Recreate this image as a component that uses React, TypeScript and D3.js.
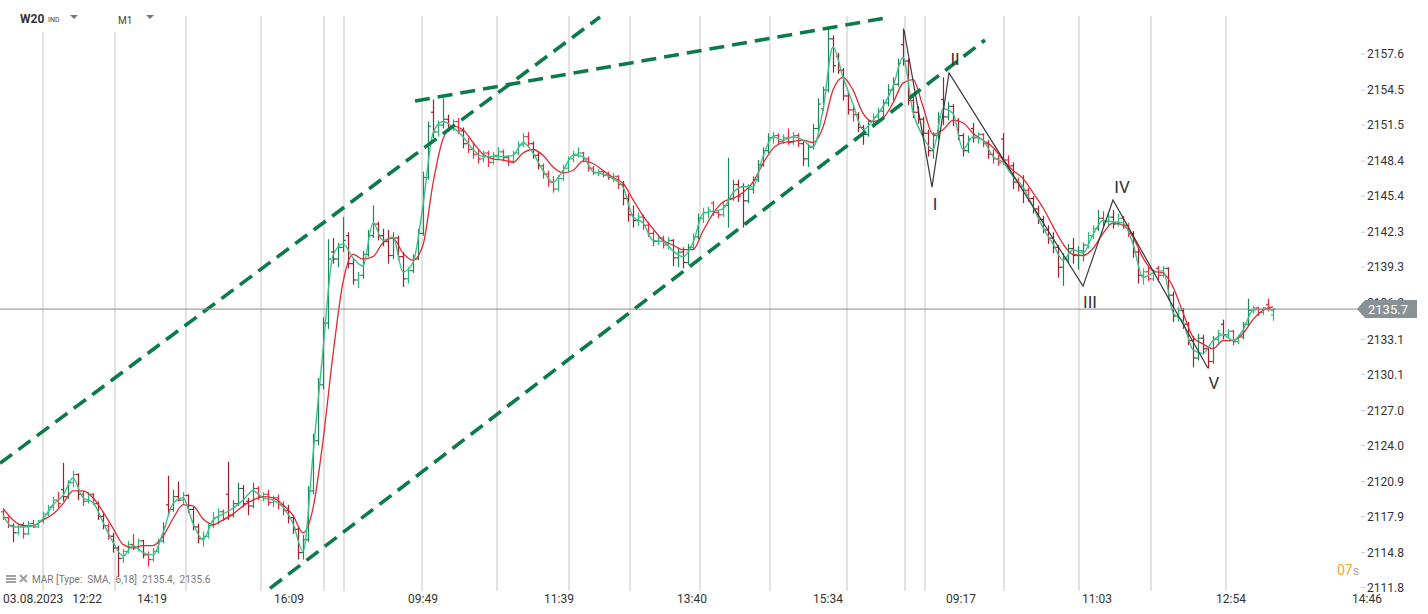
import * as d3 from "d3";

// right axis tick labels (price)
const priceTicks = [
  "2157.6", "2154.5", "2151.5", "2148.4", "2145.4", "2142.3", "2139.3", "2136.2",
  "2133.1", "2130.1", "2127.0", "2124.0", "2120.9", "2117.9", "2114.8", "2111.8",
];

// time axis labels and where they sit (bar slot units)
const timeLabels = ["14:19", "16:09", "09:49", "11:39", "13:40", "15:34", "09:17", "11:03", "12:54", "14:46"];
const timeSlots = [29.8, 57.2, 84, 111.2, 137.8, 165, 191.6, 218.8, 245.6, 272.8];
const firstLabel = "03.08.2023\u00a0\u00a0\u00a012:22";

// vertical grid lines (bar slot units)
const gridSlots = [8, 22.4, 36.6, 51.6, 64.2, 68.2, 83.8, 98.8, 113.2, 125.4, 139.4, 153.4, 168.8, 180.4, 184.4, 200.2, 215.2, 229.6, 244.6];

// OHLC bars: [open, high, low, close]
const bars: [number, number, number, number][] = [
  [2118.3, 2118.5, 2117.6, 2117.8], [2117.8, 2117.9, 2116.9, 2117.1], [2117.1, 2117.3, 2115.7, 2116.5], [2116.5, 2117.3, 2116.3, 2117.2], [2117.2, 2117.4, 2116.0, 2116.4],
  [2116.4, 2117.5, 2116.3, 2117.3], [2117.3, 2117.6, 2116.9, 2117.0], [2117.0, 2117.6, 2116.9, 2117.5], [2117.5, 2118.3, 2117.3, 2118.1], [2118.1, 2118.9, 2117.9, 2118.7],
  [2118.7, 2119.6, 2118.4, 2119.3], [2119.3, 2120.0, 2118.6, 2119.0], [2120.2, 2122.5, 2119.2, 2119.6], [2119.6, 2121.0, 2119.4, 2120.8], [2120.8, 2121.8, 2120.4, 2121.5],
  [2121.5, 2121.6, 2119.3, 2119.8], [2119.8, 2120.1, 2118.8, 2119.2], [2119.2, 2120.0, 2119.0, 2119.8], [2119.8, 2119.9, 2118.9, 2119.0], [2119.0, 2119.2, 2117.6, 2117.9],
  [2117.9, 2118.3, 2116.8, 2117.1], [2117.1, 2117.3, 2115.9, 2116.2], [2116.2, 2116.5, 2114.8, 2115.2], [2115.2, 2115.4, 2112.7, 2114.3], [2114.3, 2115.1, 2113.9, 2114.9],
  [2114.9, 2115.8, 2114.7, 2115.5], [2115.5, 2116.4, 2115.0, 2115.2], [2115.2, 2116.0, 2114.9, 2115.8], [2115.8, 2115.9, 2114.3, 2114.6], [2114.6, 2114.9, 2113.6, 2114.2],
  [2114.2, 2115.2, 2114.0, 2114.9], [2114.9, 2116.0, 2114.7, 2115.8], [2115.8, 2117.4, 2115.6, 2117.0], [2118.9, 2121.4, 2118.0, 2118.5], [2118.5, 2120.2, 2118.3, 2119.6],
  [2119.6, 2120.9, 2119.2, 2119.3], [2119.3, 2120.0, 2118.9, 2119.7], [2119.7, 2119.8, 2118.2, 2118.5], [2118.5, 2118.7, 2116.7, 2117.0], [2117.0, 2117.3, 2115.6, 2116.0],
  [2116.0, 2116.6, 2115.3, 2116.2], [2116.2, 2117.4, 2116.0, 2117.1], [2117.1, 2118.3, 2116.9, 2117.8], [2117.8, 2118.6, 2117.2, 2118.3], [2118.3, 2118.5, 2117.5, 2117.7],
  [2119.8, 2122.6, 2117.6, 2118.0], [2118.0, 2119.3, 2117.8, 2119.0], [2119.0, 2120.8, 2118.8, 2120.3], [2120.3, 2120.6, 2118.7, 2119.0], [2119.2, 2119.5, 2118.0, 2118.8],
  [2118.8, 2120.8, 2118.6, 2120.3], [2120.3, 2120.5, 2119.3, 2119.6], [2119.6, 2120.0, 2119.2, 2119.8], [2119.8, 2120.2, 2118.8, 2119.1], [2119.1, 2119.7, 2118.7, 2119.5],
  [2119.5, 2119.8, 2118.5, 2118.9], [2118.9, 2119.2, 2118.0, 2118.4], [2118.4, 2118.9, 2117.3, 2117.8], [2117.8, 2118.0, 2116.4, 2116.8], [2116.8, 2117.0, 2114.2, 2114.8],
  [2114.8, 2116.3, 2114.2, 2115.9], [2115.9, 2120.5, 2115.7, 2120.1], [2120.1, 2125.0, 2119.8, 2124.4], [2124.4, 2129.8, 2124.0, 2129.2], [2129.2, 2135.0, 2128.8, 2134.5],
  [2134.5, 2141.7, 2134.0, 2140.0], [2140.6, 2141.8, 2139.6, 2140.0], [2140.0, 2141.4, 2139.3, 2141.0], [2141.0, 2143.6, 2140.6, 2141.6], [2142.0, 2142.3, 2139.2, 2139.6],
  [2139.6, 2140.1, 2137.8, 2138.2], [2138.2, 2138.9, 2137.5, 2138.6], [2138.6, 2140.7, 2138.3, 2140.4], [2140.4, 2142.5, 2140.2, 2142.0], [2142.0, 2144.6, 2141.8, 2143.0],
  [2143.0, 2143.2, 2141.6, 2142.0], [2142.0, 2142.6, 2141.1, 2141.5], [2141.5, 2142.5, 2139.6, 2140.3], [2140.3, 2142.3, 2140.0, 2141.8], [2141.8, 2142.0, 2139.9, 2140.2],
  [2140.2, 2140.6, 2137.6, 2138.3], [2138.3, 2139.3, 2137.9, 2139.0], [2139.0, 2140.4, 2138.8, 2140.0], [2140.0, 2142.6, 2139.9, 2142.2], [2142.2, 2147.5, 2142.0, 2147.0],
  [2147.0, 2151.8, 2146.8, 2151.4], [2152.6, 2153.7, 2150.4, 2150.9], [2150.9, 2151.9, 2150.5, 2151.5], [2151.5, 2153.8, 2151.2, 2152.0], [2152.0, 2152.4, 2150.9, 2151.3],
  [2151.3, 2152.0, 2151.0, 2151.8], [2151.8, 2152.1, 2150.7, 2151.0], [2151.0, 2151.3, 2149.5, 2149.9], [2149.9, 2150.4, 2149.1, 2149.4], [2149.4, 2150.0, 2148.6, 2149.0],
  [2149.0, 2149.4, 2148.2, 2148.6], [2148.6, 2149.3, 2148.3, 2149.1], [2149.1, 2149.3, 2147.9, 2148.3], [2148.3, 2149.2, 2148.1, 2148.9], [2148.9, 2149.6, 2148.6, 2149.2],
  [2149.2, 2149.4, 2148.4, 2148.7], [2148.7, 2148.9, 2148.0, 2148.4], [2148.4, 2149.3, 2148.2, 2149.1], [2149.1, 2150.1, 2148.9, 2149.8], [2149.8, 2150.8, 2149.6, 2150.5],
  [2150.5, 2150.9, 2149.6, 2149.9], [2149.9, 2150.1, 2148.6, 2148.9], [2148.9, 2149.2, 2147.7, 2148.0], [2148.0, 2148.2, 2146.9, 2147.3], [2147.3, 2147.6, 2146.2, 2146.6],
  [2146.6, 2147.1, 2145.7, 2146.0], [2146.0, 2147.2, 2145.8, 2146.9], [2146.9, 2148.1, 2146.7, 2147.8], [2147.8, 2148.8, 2147.5, 2148.6], [2148.6, 2149.3, 2148.3, 2149.0],
  [2149.0, 2149.6, 2148.7, 2149.1], [2149.1, 2149.2, 2148.3, 2148.6], [2148.6, 2148.8, 2147.5, 2147.8], [2147.8, 2148.0, 2147.2, 2147.4], [2147.4, 2147.7, 2147.1, 2147.5],
  [2147.5, 2147.6, 2147.0, 2147.2], [2147.2, 2147.5, 2146.8, 2147.0], [2147.0, 2147.4, 2146.6, 2147.1], [2147.1, 2147.2, 2146.0, 2146.4], [2146.4, 2146.7, 2144.6, 2145.2],
  [2145.2, 2145.6, 2143.2, 2143.8], [2143.8, 2144.6, 2142.7, 2143.3], [2143.3, 2144.0, 2142.8, 2143.6], [2143.6, 2143.8, 2142.5, 2142.9], [2142.9, 2143.2, 2141.9, 2142.2],
  [2142.2, 2142.4, 2141.1, 2141.5], [2141.5, 2142.1, 2141.2, 2141.8], [2141.8, 2142.0, 2140.9, 2141.2], [2141.2, 2141.9, 2140.8, 2141.6], [2141.6, 2141.7, 2139.4, 2140.1],
  [2140.1, 2141.0, 2139.3, 2140.6], [2140.6, 2141.0, 2139.2, 2139.7], [2139.7, 2141.3, 2139.5, 2141.0], [2141.0, 2142.2, 2140.8, 2141.9], [2141.9, 2143.9, 2141.7, 2143.5],
  [2143.5, 2144.4, 2143.1, 2144.0], [2144.0, 2144.5, 2143.5, 2144.2], [2144.8, 2145.0, 2143.7, 2144.0], [2144.0, 2144.2, 2143.5, 2143.8], [2143.8, 2144.9, 2143.6, 2144.6],
  [2144.6, 2148.7, 2142.7, 2145.2], [2145.2, 2146.8, 2145.0, 2146.4], [2146.4, 2146.8, 2144.9, 2145.4], [2146.2, 2146.5, 2142.7, 2145.0], [2145.0, 2146.4, 2144.8, 2146.0],
  [2146.0, 2147.1, 2145.6, 2146.8], [2146.8, 2148.5, 2146.6, 2148.1], [2148.1, 2149.6, 2147.9, 2149.3], [2149.3, 2150.8, 2149.1, 2150.4], [2150.4, 2150.9, 2149.9, 2150.6],
  [2150.6, 2150.8, 2149.8, 2150.1], [2150.1, 2150.7, 2149.9, 2150.4], [2150.4, 2151.2, 2149.8, 2150.0], [2150.0, 2150.9, 2149.8, 2150.6], [2150.6, 2150.8, 2149.6, 2149.9],
  [2149.9, 2150.1, 2148.0, 2148.6], [2148.6, 2149.9, 2147.9, 2149.6], [2149.6, 2151.6, 2149.4, 2151.2], [2151.2, 2153.8, 2151.0, 2153.3], [2152.9, 2154.8, 2152.7, 2154.5],
  [2154.5, 2159.8, 2154.3, 2158.9], [2158.9, 2159.2, 2156.0, 2156.6], [2157.4, 2157.7, 2155.9, 2156.2], [2156.2, 2156.4, 2153.6, 2154.0], [2154.0, 2154.3, 2152.4, 2152.8],
  [2152.8, 2153.2, 2151.8, 2152.4], [2152.4, 2152.6, 2150.9, 2151.3], [2151.3, 2151.5, 2149.8, 2150.7], [2150.7, 2152.0, 2150.5, 2151.8], [2151.8, 2152.5, 2151.5, 2152.2],
  [2152.2, 2153.0, 2151.9, 2152.7], [2152.7, 2153.7, 2152.2, 2153.4], [2153.4, 2155.0, 2153.1, 2154.5], [2154.5, 2155.6, 2153.6, 2155.0], [2155.0, 2157.2, 2154.8, 2156.8],
  [2158.4, 2159.8, 2156.6, 2157.0], [2157.0, 2157.2, 2153.2, 2153.6], [2153.6, 2154.0, 2152.1, 2152.6], [2152.6, 2153.1, 2151.6, 2152.0], [2152.0, 2152.2, 2150.5, 2150.8],
  [2150.8, 2151.1, 2148.8, 2149.3], [2149.3, 2150.9, 2148.6, 2150.6], [2150.6, 2152.6, 2150.3, 2152.2], [2153.7, 2155.6, 2151.5, 2152.2], [2152.2, 2153.5, 2151.9, 2153.1],
  [2153.1, 2153.3, 2151.4, 2151.9], [2151.9, 2152.1, 2150.2, 2150.6], [2150.6, 2150.8, 2148.8, 2149.3], [2149.3, 2150.6, 2149.1, 2150.3], [2151.2, 2151.7, 2150.0, 2150.4],
  [2150.4, 2150.9, 2149.9, 2150.7], [2150.7, 2150.8, 2149.6, 2149.9], [2149.9, 2150.2, 2148.6, 2149.0], [2149.0, 2149.4, 2148.2, 2148.6], [2148.6, 2148.9, 2148.0, 2148.3],
  [2150.3, 2150.8, 2148.1, 2148.5], [2148.5, 2148.9, 2147.6, 2148.0], [2148.0, 2148.3, 2146.0, 2146.6], [2146.6, 2147.0, 2145.8, 2146.2], [2146.2, 2147.2, 2144.8, 2145.9],
  [2145.9, 2146.1, 2144.9, 2145.2], [2145.2, 2145.4, 2143.9, 2144.3], [2144.3, 2144.6, 2143.0, 2143.4], [2143.4, 2143.7, 2142.2, 2142.5], [2142.5, 2142.9, 2141.3, 2141.8],
  [2141.8, 2142.3, 2140.5, 2141.0], [2141.0, 2141.2, 2138.4, 2139.3], [2139.3, 2140.5, 2137.7, 2140.0], [2140.0, 2141.3, 2139.6, 2140.9], [2140.9, 2141.8, 2139.6, 2140.3],
  [2140.3, 2141.1, 2139.1, 2140.7], [2140.7, 2141.4, 2139.8, 2141.2], [2141.2, 2142.3, 2140.9, 2142.0], [2142.0, 2142.9, 2141.7, 2142.6], [2142.6, 2144.2, 2142.4, 2143.5],
  [2143.5, 2144.1, 2142.8, 2143.2], [2143.2, 2143.9, 2142.9, 2143.6], [2143.6, 2144.2, 2142.6, 2143.0], [2143.0, 2143.9, 2142.8, 2143.5], [2143.5, 2143.7, 2142.6, 2142.9],
  [2142.9, 2143.1, 2141.9, 2142.2], [2142.2, 2142.4, 2140.1, 2140.6], [2140.6, 2140.9, 2137.9, 2138.6], [2138.6, 2139.2, 2137.8, 2138.9], [2138.9, 2139.3, 2138.1, 2138.3],
  [2138.3, 2139.1, 2138.1, 2138.9], [2139.2, 2139.4, 2138.0, 2138.6], [2138.6, 2139.4, 2138.4, 2139.2], [2139.2, 2139.3, 2136.5, 2136.9], [2136.9, 2137.2, 2134.6, 2135.1],
  [2135.1, 2135.9, 2134.6, 2135.6], [2135.6, 2135.8, 2134.0, 2134.4], [2134.4, 2134.6, 2132.6, 2133.0], [2133.0, 2133.4, 2130.7, 2131.5], [2131.5, 2133.6, 2131.3, 2133.2],
  [2133.2, 2133.5, 2131.8, 2132.3], [2132.3, 2132.5, 2130.6, 2131.2], [2131.2, 2133.4, 2131.0, 2133.1], [2133.1, 2133.9, 2132.8, 2133.6], [2134.4, 2134.8, 2133.1, 2133.5],
  [2133.5, 2134.0, 2133.2, 2133.8], [2133.8, 2133.9, 2132.6, 2132.9], [2132.9, 2133.5, 2132.7, 2133.3], [2133.3, 2134.6, 2133.1, 2134.4], [2134.4, 2136.6, 2134.2, 2135.6],
  [2135.6, 2136.0, 2135.3, 2135.8], [2135.8, 2135.9, 2135.1, 2135.4], [2135.4, 2135.9, 2135.2, 2135.8], [2136.1, 2136.6, 2135.5, 2135.7], [2135.2, 2135.8, 2134.7, 2135.7],
];

// MAR SMA 6 (fast, green) and SMA 18 (slow, red), one value every second bar
const fastMa = [
  2118.0, 2117.0, 2117.0, 2117.1, 2117.7, 2118.9, 2119.7, 2121.2, 2119.5, 2119.1,
  2117.4, 2115.7, 2114.5, 2115.4, 2114.8, 2114.6, 2116.5, 2119.0, 2119.5, 2117.3,
  2115.9, 2117.6, 2118.1, 2118.6, 2119.3, 2120.1, 2119.5, 2119.3, 2118.7, 2117.3,
  2114.9, 2123.2, 2132.2, 2140.3, 2141.3, 2140.1, 2139.4, 2143.1, 2141.6, 2141.9,
  2138.9, 2139.7, 2144.6, 2150.8, 2151.8, 2151.3, 2150.5, 2149.4, 2148.8, 2148.8,
  2148.8, 2148.9, 2150.0, 2149.1, 2147.6, 2146.6, 2147.6, 2148.9, 2148.8, 2147.5,
  2147.3, 2146.9, 2146.2, 2143.6, 2143.1, 2141.6, 2141.5, 2140.7, 2140.2, 2141.4,
  2143.9, 2144.1, 2144.3, 2145.7, 2146.2, 2146.2, 2148.8, 2150.5, 2150.2, 2150.5,
  2150.2, 2149.6, 2152.8, 2158.2, 2155.6, 2153.3, 2151.1, 2151.9, 2153.1, 2154.8,
  2157.3, 2152.6, 2150.5, 2149.4, 2152.9, 2152.5, 2149.4, 2150.5, 2150.2, 2148.8,
  2148.3, 2147.1, 2146.2, 2144.5, 2142.7, 2141.3, 2139.9, 2140.8, 2140.5, 2142.1,
  2143.3, 2143.2, 2143.1, 2141.3, 2138.4, 2138.8, 2139.0, 2135.4, 2134.6, 2132.2,
  2131.9, 2133.0, 2133.5, 2133.0, 2133.9, 2135.6, 2135.7, 2135.6,
];
const slowMa = [
  2118.6, 2117.6, 2117.1, 2117.1, 2117.6, 2118.1, 2119.0, 2120.1, 2120.1, 2119.5,
  2118.3, 2116.9, 2115.5, 2115.2, 2115.4, 2115.4, 2116.2, 2117.7, 2118.9, 2118.8,
  2117.7, 2117.2, 2117.6, 2118.1, 2118.8, 2119.3, 2119.6, 2119.5, 2118.9, 2118.0,
  2116.5, 2118.6, 2124.4, 2131.8, 2138.0, 2140.4, 2140.0, 2140.2, 2141.4, 2141.8,
  2140.5, 2139.9, 2141.2, 2146.5, 2150.3, 2151.4, 2151.1, 2150.0, 2149.0, 2148.6,
  2148.5, 2148.3, 2149.1, 2149.4, 2148.9, 2147.9, 2147.4, 2147.6, 2148.4, 2148.2,
  2147.6, 2147.0, 2146.5, 2145.1, 2143.7, 2142.6, 2141.6, 2141.2, 2140.8, 2140.8,
  2142.4, 2143.9, 2144.9, 2145.2, 2145.7, 2146.6, 2148.2, 2149.5, 2150.0, 2150.1,
  2150.2, 2150.0, 2151.3, 2154.5, 2155.6, 2154.5, 2152.5, 2151.8, 2152.1, 2153.4,
  2155.1, 2155.4, 2153.1, 2150.7, 2151.1, 2151.9, 2151.7, 2150.8, 2150.2, 2149.6,
  2148.5, 2147.6, 2146.9, 2145.7, 2144.4, 2142.8, 2141.3, 2140.4, 2140.3, 2140.9,
  2142.2, 2143.1, 2142.9, 2141.9, 2140.1, 2139.0, 2138.8, 2137.6, 2135.4, 2133.3,
  2132.7, 2132.3, 2133.0, 2133.0, 2133.6, 2134.8, 2135.6, 2135.9,
];

// dashed trend lines: [slot1, price1, slot2, price2]
const trendLines = [
  [-0.6, 2122.46, 119.4, 2160.78],
  [53.4, 2111.72, 196.4, 2158.8],
  [82.4, 2153.56, 176.4, 2160.69],
];

// Elliott wave count
const waveSlots = [180.2, 185.8, 189.2, 216, 222, 241];
const wavePrices = [2159.66, 2146.17, 2155.97, 2137.67, 2145.06, 2130.62];
const waveNames = ["", "I", "II", "III", "IV", "V"];
const waveOffsets = [[0, 0], [3, 23], [6, -8], [7, 22], [9, -7], [6, 21]];

const lastPrice = 2135.7;
const legendText = "MAR [Type:\u00a0\u00a0SMA,\u00a0\u00a06,18]\u00a0\u00a02135.4,\u00a0\u00a02135.6";

const FONT = "Roboto, 'Noto Sans', sans-serif";

export default function App() {
  const W = 1428;
  const H = 614;
  const x = d3.scaleLinear().domain([0, bars.length - 1]).range([3, 1273]);
  const y = d3.scaleLinear().domain([2111.8, 2157.6]).range([587.5, 54]);

  const maLine = d3
    .line<number>()
    .x((_, k) => x(k * 2))
    .y((d) => y(d))
    .curve(d3.curveMonotoneX);

  const wavePath = d3
    .line<number>()
    .x((d) => x(d))
    .y((_, i) => y(wavePrices[i]))(waveSlots);

  const py = y(lastPrice);

  return (
    <svg
      width={W}
      height={H}
      style={{ position: "absolute", left: 0, top: 0, display: "block", background: "#fff" }}
      fontFamily={FONT}
    >
      {/* grid */}
      {gridSlots.map((s, i) => (
        <line key={i} x1={x(s)} x2={x(s)} y1={16} y2={591} stroke="#e2e2e2" strokeWidth={2} />
      ))}

      {/* bars */}
      {bars.map(([o, h, l, c], i) => {
        const up = c >= o;
        const big = h - l >= 1.5;
        const col = up ? (big ? "#1c8757" : "#2bb67b") : big ? "#a61d2a" : "#f2283c";
        const cx = Math.round(x(i)) + 0.5;
        return (
          <g key={i} stroke={col} strokeWidth={1.2}>
            <line x1={cx} x2={cx} y1={y(h)} y2={y(l)} />
            <line x1={cx - 2.5} x2={cx} y1={y(o)} y2={y(o)} />
            <line x1={cx} x2={cx + 2.5} y1={y(c)} y2={y(c)} />
          </g>
        );
      })}

      {/* moving averages */}
      <path d={maLine(slowMa) || ""} fill="none" stroke="#e2282f" strokeWidth={1.3} />
      <path d={maLine(fastMa) || ""} fill="none" stroke="#3dbf8c" strokeWidth={1.4} />

      {/* trend lines */}
      {trendLines.map(([s1, p1, s2, p2], i) => (
        <line
          key={i}
          x1={x(s1)}
          y1={y(p1)}
          x2={x(s2)}
          y2={y(p2)}
          stroke="#0d7a4c"
          strokeWidth={3.6}
          strokeDasharray="15,8"
        />
      ))}

      {/* wave count */}
      <path d={wavePath || ""} fill="none" stroke="#3a3a3a" strokeWidth={1.2} />
      {waveNames.map((n, i) =>
        n ? (
          <text
            key={i}
            x={x(waveSlots[i]) + waveOffsets[i][0]}
            y={y(wavePrices[i]) + waveOffsets[i][1]}
            fontSize={17}
            fill="#333"
            textAnchor="middle"
          >
            {n}
          </text>
        ) : null
      )}

      {/* last price line */}
      <line x1={0} x2={1358} y1={py} y2={py} stroke="#8a8a8a" strokeWidth={1} />

      {/* price axis */}
      {priceTicks.map((t) => (
        <g key={t}>
          <line x1={1361} x2={1365} y1={y(+t)} y2={y(+t)} stroke="#ccc" />
          <text x={1367} y={y(+t)} dy="0.35em" fontSize={12} fill="#333">
            {t}
          </text>
        </g>
      ))}
      <path
        d={`M1357,${py} L1365,${py - 9} L1417,${py - 9} L1417,${py + 9} L1365,${py + 9} Z`}
        fill="#879196"
      />
      <text x={1368} y={py} dy="0.36em" fontSize={13} fill="#fff">
        {lastPrice.toFixed(1)}
      </text>

      {/* time axis */}
      <text x={3} y={603} fontSize={12} fill="#333">
        {firstLabel}
      </text>
      {timeLabels.map((t, i) => (
        <text key={t + i} x={x(timeSlots[i])} y={603} fontSize={12} fill="#333" textAnchor="middle">
          {t}
        </text>
      ))}

      {/* header */}
      <rect x={0} y={0} width={168} height={32} fill="#fff" />
      <text x={20} y={23} fontSize={12} fontWeight="bold" fill="#333">
        W20
      </text>
      <text x={48} y={22} fontSize={7} fill="#444">
        IND
      </text>
      <path d="M70,15 L78,15 L74,19 Z" fill="#777" />
      <text x={118} y={24} fontSize={10} fill="#444">
        M1
      </text>
      <path d="M146,15 L154,15 L150,19 Z" fill="#777" />

      {/* indicator legend */}
      <g fill="#a0a0a0">
        <rect x={6} y={575} width={10} height={2} />
        <rect x={6} y={578} width={10} height={2} />
        <rect x={6} y={581} width={10} height={2} />
      </g>
      <path d="M20,575 L27,582 M27,575 L20,582" stroke="#a0a0a0" strokeWidth={2} />
      <text x={32} y={583} fontSize={10} fill="#777">
        {legendText}
      </text>

      {/* countdown */}
      <text x={1337} y={575} fontSize={14} fill="#f5a623">
        07
        <tspan fontSize={12} fill="#aaa">
          s
        </tspan>
      </text>
    </svg>
  );
}
